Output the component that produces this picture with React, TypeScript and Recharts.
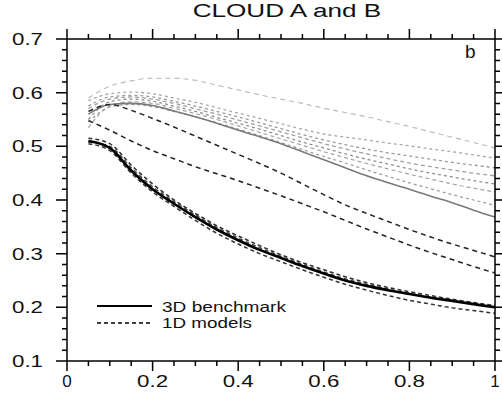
import React from 'react';
import { LineChart, Line, XAxis, YAxis, Legend } from 'recharts';

const X_VALUES = [0.05, 0.1, 0.15, 0.2, 0.25, 0.3, 0.35, 0.4, 0.45, 0.5, 0.55, 0.6, 0.65, 0.7, 0.75, 0.8, 0.85, 0.9, 0.95, 1.0];

// Cloud A (black)
const CLOUD_A_3D = [0.51, 0.497, 0.455, 0.42, 0.393, 0.368, 0.345, 0.325, 0.307, 0.292, 0.277, 0.263, 0.25, 0.24, 0.232, 0.225, 0.218, 0.212, 0.206, 0.2];
const CLOUD_A_1D_1 = [0.515, 0.505, 0.465, 0.43, 0.4, 0.375, 0.352, 0.333, 0.315, 0.298, 0.283, 0.27, 0.257, 0.246, 0.237, 0.229, 0.222, 0.215, 0.209, 0.203];
const CLOUD_A_1D_2 = [0.505, 0.492, 0.45, 0.415, 0.388, 0.362, 0.338, 0.318, 0.3, 0.285, 0.27, 0.256, 0.243, 0.232, 0.222, 0.213, 0.206, 0.199, 0.194, 0.189];
const CLOUD_A_1D_3 = [0.508, 0.5, 0.46, 0.425, 0.397, 0.372, 0.349, 0.329, 0.311, 0.295, 0.28, 0.266, 0.253, 0.243, 0.234, 0.226, 0.219, 0.213, 0.207, 0.201];
const CLOUD_A_1D_4 = [0.565, 0.578, 0.567, 0.552, 0.536, 0.519, 0.502, 0.485, 0.468, 0.45, 0.43, 0.41, 0.391, 0.375, 0.36, 0.345, 0.331, 0.318, 0.306, 0.294];
const CLOUD_A_1D_5 = [0.548, 0.53, 0.51, 0.492, 0.477, 0.462, 0.449, 0.436, 0.422, 0.408, 0.393, 0.378, 0.362, 0.346, 0.331, 0.316, 0.302, 0.289, 0.276, 0.264];

// Cloud B (grey)
const CLOUD_B_3D = [0.56, 0.578, 0.58, 0.576, 0.566, 0.555, 0.543, 0.53, 0.518, 0.505, 0.49, 0.475, 0.46, 0.445, 0.432, 0.42, 0.407, 0.395, 0.381, 0.368];
const CLOUD_B_1D_1 = [0.585, 0.598, 0.601, 0.598, 0.59, 0.582, 0.572, 0.562, 0.552, 0.542, 0.532, 0.523, 0.517, 0.512, 0.506, 0.501, 0.495, 0.49, 0.484, 0.478];
const CLOUD_B_1D_2 = [0.575, 0.592, 0.595, 0.592, 0.584, 0.575, 0.565, 0.555, 0.544, 0.533, 0.522, 0.512, 0.503, 0.495, 0.488, 0.482, 0.476, 0.47, 0.465, 0.46];
const CLOUD_B_1D_3 = [0.57, 0.588, 0.592, 0.588, 0.58, 0.57, 0.56, 0.549, 0.538, 0.527, 0.516, 0.505, 0.495, 0.486, 0.477, 0.469, 0.462, 0.456, 0.45, 0.445];
const CLOUD_B_1D_4 = [0.55, 0.583, 0.588, 0.584, 0.575, 0.565, 0.554, 0.543, 0.532, 0.52, 0.508, 0.497, 0.486, 0.476, 0.467, 0.458, 0.45, 0.443, 0.436, 0.43];
const CLOUD_B_1D_5 = [0.535, 0.575, 0.583, 0.58, 0.571, 0.561, 0.55, 0.538, 0.526, 0.514, 0.502, 0.49, 0.479, 0.468, 0.458, 0.448, 0.439, 0.43, 0.422, 0.415];
const CLOUD_B_1D_6 = [0.545, 0.573, 0.578, 0.574, 0.565, 0.555, 0.544, 0.532, 0.52, 0.507, 0.494, 0.481, 0.469, 0.456, 0.444, 0.432, 0.421, 0.41, 0.4, 0.39];
const CLOUD_B_1D_7 = [0.59, 0.612, 0.622, 0.627, 0.627, 0.623, 0.614, 0.605, 0.596, 0.588, 0.58, 0.571, 0.563, 0.555, 0.546, 0.537, 0.527, 0.517, 0.507, 0.497];

const X_DOMAIN = [0, 1];
const Y_DOMAIN = [0.1, 0.7];
const X_TICKS = [0, 0.05, 0.1, 0.15, 0.2, 0.25, 0.3, 0.35, 0.4, 0.45, 0.5, 0.55, 0.6, 0.65, 0.7, 0.75, 0.8, 0.85, 0.9, 0.95, 1];
const X_MAJOR = [0, 0.2, 0.4, 0.6, 0.8, 1];
const X_LABELS = ['0', '0.2', '0.4', '0.6', '0.8', '1'];
const Y_TICKS = [0.1, 0.12, 0.14, 0.16, 0.18, 0.2, 0.22, 0.24, 0.26, 0.28, 0.3, 0.32, 0.34, 0.36, 0.38, 0.4, 0.42, 0.44, 0.46, 0.48, 0.5, 0.52, 0.54, 0.56, 0.58, 0.6, 0.62, 0.64, 0.66, 0.68, 0.7];
const Y_MAJOR = [0.1, 0.2, 0.3, 0.4, 0.5, 0.6, 0.7];
const Y_LABELS = ['0.1', '0.2', '0.3', '0.4', '0.5', '0.6', '0.7'];

const TITLE = 'CLOUD A and B';
const PANEL = 'b';
const LEGEND_LABELS = ['3D benchmark', '1D models'];

const SERIES = [
  { key: 'b7', data: CLOUD_B_1D_7, color: '#b8b8b8', width: 1.1, dash: '5 4' },
  { key: 'b1', data: CLOUD_B_1D_1, color: '#a8a8a8', width: 1.3, dash: '3 3' },
  { key: 'b2', data: CLOUD_B_1D_2, color: '#9a9a9a', width: 1.3, dash: '3 3' },
  { key: 'b3', data: CLOUD_B_1D_3, color: '#a0a0a0', width: 1.3, dash: '4 3' },
  { key: 'b4', data: CLOUD_B_1D_4, color: '#909090', width: 1.3, dash: '3 3' },
  { key: 'b5', data: CLOUD_B_1D_5, color: '#a5a5a5', width: 1.2, dash: '4 3' },
  { key: 'b6', data: CLOUD_B_1D_6, color: '#999999', width: 1.2, dash: '3 3' },
  { key: 'b3d', data: CLOUD_B_3D, color: '#7a7a7a', width: 1.6, dash: undefined },
  { key: 'a4', data: CLOUD_A_1D_4, color: '#222222', width: 1.5, dash: '5 4' },
  { key: 'a5', data: CLOUD_A_1D_5, color: '#222222', width: 1.5, dash: '5 4' },
  { key: 'a1', data: CLOUD_A_1D_1, color: '#333333', width: 1.6, dash: '4 3' },
  { key: 'a2', data: CLOUD_A_1D_2, color: '#333333', width: 1.5, dash: '4 3' },
  { key: 'a3', data: CLOUD_A_1D_3, color: '#444444', width: 1.5, dash: '4 3' },
  { key: 'a3d', data: CLOUD_A_3D, color: '#000000', width: 2.6, dash: undefined },
];

const ROWS = X_VALUES.map((x, i) => {
  const row: Record<string, number> = { x };
  SERIES.forEach((s) => { row[s.key] = s.data[i]; });
  return row;
});

// layout
const CHART_W = 502;
const CHART_H = 399;
const MARGIN = { top: 39, right: 7, bottom: 8, left: 0 };
const Y_AXIS_W = 67;
const X_AXIS_H = 30;
const PLOT = {
  left: MARGIN.left + Y_AXIS_W,
  top: MARGIN.top,
  right: CHART_W - MARGIN.right,
  bottom: CHART_H - MARGIN.bottom - X_AXIS_H,
};
const xPx = (v: number) => PLOT.left + ((v - X_DOMAIN[0]) / (X_DOMAIN[1] - X_DOMAIN[0])) * (PLOT.right - PLOT.left);
const yPx = (v: number) => PLOT.bottom - ((v - Y_DOMAIN[0]) / (Y_DOMAIN[1] - Y_DOMAIN[0])) * (PLOT.bottom - PLOT.top);

const FONT = '"Liberation Sans", Arial, Helvetica, sans-serif';

const findMajor = (v: number, majors: number[]) => majors.findIndex((m) => Math.abs(m - v) < 1e-6);

const stretch = (label: string, w: number) =>
  label.length > 1 ? { textLength: w, lengthAdjust: 'spacingAndGlyphs' } : {};

const BottomLabel = (props: any) => {
  const x = Number(props.x);
  const y = Number(props.y);
  const i = findMajor(props.payload.value, X_MAJOR);
  if (i < 0) return <g />;
  return (
    <text x={x} y={y + 26} textAnchor="middle" fontFamily={FONT} fontSize={17} fill="#111" {...stretch(X_LABELS[i], 31)}>
      {X_LABELS[i]}
    </text>
  );
};

const LeftLabel = (props: any) => {
  const x = Number(props.x);
  const y = Number(props.y);
  const i = findMajor(props.payload.value, Y_MAJOR);
  if (i < 0) return <g />;
  return (
    <text x={x - 24} y={y + 6} textAnchor="end" fontFamily={FONT} fontSize={17} fill="#111" {...stretch(Y_LABELS[i], 31)}>
      {Y_LABELS[i]}
    </text>
  );
};

// frame and outward tick marks
const framePath = () => {
  const parts: string[] = [];
  parts.push(`M${PLOT.left},${PLOT.top}H${PLOT.right}V${PLOT.bottom}H${PLOT.left}Z`);
  X_TICKS.forEach((v) => {
    const len = findMajor(v, X_MAJOR) >= 0 ? 10 : 5;
    const x = xPx(v);
    parts.push(`M${x},${PLOT.bottom}v${len}`);
    parts.push(`M${x},${PLOT.top}v${-len}`);
  });
  Y_TICKS.forEach((v) => {
    const major = findMajor(v, Y_MAJOR) >= 0;
    const y = yPx(v);
    parts.push(`M${PLOT.left},${y}h${-(major ? 11 : 5)}`);
    parts.push(`M${PLOT.right},${y}h${major ? 10 : 5}`);
  });
  return parts.join('');
};

const LegendBox = () => (
  <svg width={230} height={40} style={{ display: 'block' }}>
    <line x1={7} x2={62} y1={10} y2={10} stroke="#000" strokeWidth={2} />
    <line x1={7} x2={62} y1={27} y2={27} stroke="#000" strokeWidth={1.6} strokeDasharray="4 3" />
    <text x={72} y={16} fontFamily={FONT} fontSize={15} fill="#111" textLength={124} lengthAdjust="spacingAndGlyphs">
      {LEGEND_LABELS[0]}
    </text>
    <text x={72} y={32} fontFamily={FONT} fontSize={15} fill="#111" textLength={90} lengthAdjust="spacingAndGlyphs">
      {LEGEND_LABELS[1]}
    </text>
  </svg>
);

export default function App() {
  return (
    <div style={{ position: 'absolute', left: 0, top: 0, width: CHART_W, height: CHART_H, background: '#fff' }}>
      <LineChart width={CHART_W} height={CHART_H} data={ROWS} margin={MARGIN}>
        <XAxis
          dataKey="x"
          type="number"
          domain={X_DOMAIN}
          ticks={X_TICKS}
          interval={0}
          tickSize={0}
          tickMargin={0}
          tickLine={false}
          tick={<BottomLabel />}
          height={X_AXIS_H}
          axisLine={false}
        />
        <YAxis
          type="number"
          domain={Y_DOMAIN}
          ticks={Y_TICKS}
          interval={0}
          tickSize={0}
          tickMargin={0}
          tickLine={false}
          tick={<LeftLabel />}
          width={Y_AXIS_W}
          axisLine={false}
        />
        {SERIES.map((s) => (
          <Line
            key={s.key}
            dataKey={s.key}
            type="monotone"
            stroke={s.color}
            strokeWidth={s.width}
            strokeDasharray={s.dash}
            dot={false}
            activeDot={false}
            isAnimationActive={false}
          />
        ))}
        <Legend
          layout="vertical"
          align="center"
          verticalAlign="middle"
          content={() => <LegendBox />}
          wrapperStyle={{ left: 90, top: 296, width: 230, height: 40 }}
        />
      </LineChart>
      <svg width={CHART_W} height={CHART_H} style={{ position: 'absolute', left: 0, top: 0, pointerEvents: 'none' }}>
        <path d={framePath()} stroke="#000" strokeWidth={1.5} fill="none" />
      </svg>
      <div
        style={{
          position: 'absolute', left: 192, top: 1, width: 190, fontFamily: FONT, fontSize: 18,
          color: '#111', textAlign: 'center', whiteSpace: 'nowrap', transform: 'scaleX(1.45)', transformOrigin: 'center',
        }}
      >
        {TITLE}
      </div>
      <div style={{ position: 'absolute', left: 465, top: 41, fontFamily: FONT, fontSize: 19, color: '#111' }}>{PANEL}</div>
    </div>
  );
}
